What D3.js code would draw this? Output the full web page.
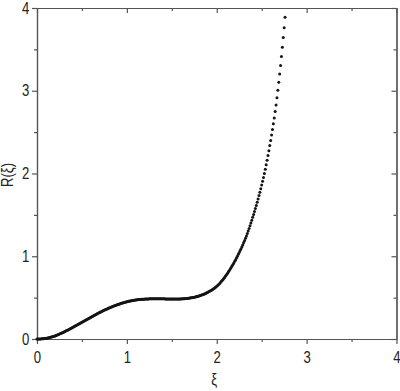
<!DOCTYPE html>
<html>
<head>
<meta charset="utf-8">
<script src="https://cdn.jsdelivr.net/npm/d3@7"></script>
<style>
    body { margin: 0; background: #fff; }
    .chart text { font-family: "Liberation Sans", Arial, sans-serif; font-size: 16px; fill: #222; }
</style>
</head>
<body>
<div class="chart"></div>
<script>
// sample points (xi step of about 0.01)
var xi = [
    0.00, 0.01, 0.02, 0.03, 0.04, 0.05, 0.06, 0.07, 0.08, 0.09,
    0.10, 0.11, 0.12, 0.13, 0.14, 0.15, 0.16, 0.17, 0.18, 0.19,
    0.20, 0.21, 0.22, 0.23, 0.24, 0.25, 0.26, 0.27, 0.28, 0.29,
    0.30, 0.31, 0.32, 0.33, 0.34, 0.35, 0.36, 0.37, 0.38, 0.39,
    0.40, 0.41, 0.42, 0.43, 0.44, 0.45, 0.46, 0.47, 0.48, 0.49,
    0.50, 0.51, 0.52, 0.53, 0.54, 0.55, 0.56, 0.57, 0.58, 0.59,
    0.60, 0.61, 0.62, 0.63, 0.64, 0.65, 0.66, 0.67, 0.68, 0.69,
    0.70, 0.71, 0.72, 0.73, 0.74, 0.75, 0.76, 0.77, 0.78, 0.79,
    0.80, 0.81, 0.82, 0.83, 0.84, 0.85, 0.86, 0.87, 0.88, 0.89,
    0.90, 0.91, 0.92, 0.93, 0.94, 0.95, 0.96, 0.97, 0.98, 0.99,
    1.00, 1.01, 1.02, 1.03, 1.04, 1.05, 1.06, 1.07, 1.08, 1.09,
    1.10, 1.11, 1.12, 1.13, 1.14, 1.15, 1.16, 1.17, 1.18, 1.19,
    1.20, 1.21, 1.22, 1.23, 1.24, 1.25, 1.26, 1.27, 1.28, 1.29,
    1.30, 1.31, 1.32, 1.33, 1.34, 1.35, 1.36, 1.37, 1.38, 1.39,
    1.40, 1.41, 1.42, 1.43, 1.44, 1.45, 1.46, 1.47, 1.48, 1.49,
    1.50, 1.51, 1.52, 1.53, 1.54, 1.55, 1.56, 1.57, 1.58, 1.59,
    1.60, 1.61, 1.62, 1.63, 1.64, 1.65, 1.66, 1.67, 1.68, 1.69,
    1.70, 1.71, 1.72, 1.73, 1.74, 1.75, 1.76, 1.77, 1.78, 1.79,
    1.80, 1.81, 1.82, 1.83, 1.84, 1.85, 1.86, 1.87, 1.88, 1.89,
    1.90, 1.91, 1.92, 1.93, 1.94, 1.95, 1.96, 1.97, 1.98, 1.99,
    2.00, 2.01, 2.02, 2.03, 2.04, 2.05, 2.06, 2.07, 2.08, 2.09,
    2.10, 2.11, 2.12, 2.13, 2.14, 2.15, 2.16, 2.17, 2.18, 2.19,
    2.20, 2.21, 2.22, 2.23, 2.24, 2.25, 2.26, 2.27, 2.28, 2.29,
    2.30, 2.31, 2.32, 2.33, 2.34, 2.35, 2.36, 2.37, 2.38, 2.39,
    2.40, 2.41, 2.42, 2.43, 2.44, 2.45, 2.46, 2.47, 2.48, 2.49,
    2.50, 2.51, 2.52, 2.53, 2.54, 2.55, 2.56, 2.57, 2.58, 2.59,
    2.60, 2.61, 2.62, 2.63, 2.64, 2.65, 2.66, 2.67, 2.68, 2.69,
    2.70, 2.71, 2.72, 2.73, 2.74, 2.75, 2.76
];

var R = [
    0.000, 0.000, 0.000, 0.001, 0.001, 0.002, 0.003, 0.004, 0.005, 0.007,
    0.008, 0.010, 0.012, 0.015, 0.017, 0.020, 0.023, 0.026, 0.030, 0.033,
    0.037, 0.041, 0.045, 0.050, 0.055, 0.060, 0.065, 0.070, 0.075, 0.080,
    0.085, 0.091, 0.096, 0.102, 0.107, 0.113, 0.119, 0.125, 0.131, 0.137,
    0.143, 0.149, 0.155, 0.161, 0.167, 0.173, 0.179, 0.185, 0.191, 0.197,
    0.203, 0.209, 0.215, 0.222, 0.228, 0.234, 0.240, 0.246, 0.252, 0.258,
    0.264, 0.270, 0.276, 0.282, 0.288, 0.294, 0.300, 0.305, 0.311, 0.317,
    0.322, 0.327, 0.333, 0.338, 0.344, 0.349, 0.354, 0.359, 0.364, 0.369,
    0.374, 0.379, 0.383, 0.388, 0.392, 0.397, 0.401, 0.405, 0.409, 0.413,
    0.417, 0.421, 0.424, 0.428, 0.431, 0.435, 0.438, 0.441, 0.444, 0.447,
    0.450, 0.453, 0.455, 0.458, 0.460, 0.462, 0.464, 0.466, 0.468, 0.470,
    0.471, 0.473, 0.474, 0.476, 0.477, 0.478, 0.479, 0.480, 0.481, 0.481,
    0.482, 0.483, 0.483, 0.484, 0.484, 0.485, 0.485, 0.485, 0.486, 0.486,
    0.486, 0.486, 0.486, 0.486, 0.486, 0.486, 0.486, 0.486, 0.485, 0.485,
    0.485, 0.485, 0.485, 0.484, 0.484, 0.484, 0.484, 0.484, 0.483, 0.483,
    0.483, 0.483, 0.483, 0.483, 0.483, 0.483, 0.483, 0.483, 0.484, 0.484,
    0.484, 0.485, 0.485, 0.486, 0.487, 0.488, 0.489, 0.490, 0.492, 0.493,
    0.495, 0.497, 0.499, 0.501, 0.503, 0.505, 0.508, 0.511, 0.514, 0.517,
    0.520, 0.524, 0.527, 0.531, 0.535, 0.539, 0.544, 0.548, 0.553, 0.558,
    0.564, 0.570, 0.576, 0.582, 0.589, 0.596, 0.603, 0.611, 0.619, 0.627,
    0.636, 0.647, 0.658, 0.669, 0.681, 0.694, 0.707, 0.720, 0.734, 0.749,
    0.764, 0.780, 0.796, 0.812, 0.829, 0.846, 0.864, 0.882, 0.900, 0.919,
    0.939, 0.959, 0.980, 1.001, 1.023, 1.045, 1.068, 1.092, 1.116, 1.140,
    1.165, 1.191, 1.218, 1.246, 1.275, 1.305, 1.336, 1.368, 1.401, 1.435,
    1.470, 1.505, 1.540, 1.577, 1.614, 1.653, 1.692, 1.733, 1.774, 1.817,
    1.860, 1.905, 1.952, 2.001, 2.052, 2.105, 2.160, 2.217, 2.276, 2.337,
    2.400, 2.465, 2.532, 2.601, 2.672, 2.748, 2.829, 2.915, 3.006, 3.102,
    3.202, 3.306, 3.414, 3.526, 3.642, 3.762, 3.887
];

var xTicks = [0, 1, 2, 3, 4];
var yTicks = [0, 1, 2, 3, 4];
var xMinor = [0.5, 1.5, 2.5, 3.5];
var yMinor = [0.5, 1.5, 2.5, 3.5];

var margin = { top: 8, right: 3.5, bottom: 52, left: 37 },
    width = 400 - margin.left - margin.right,
    height = 391 - margin.top - margin.bottom;

var svg = d3.select(".chart").append("svg")
    .attr("width", 400)
    .attr("height", 391);

var g = svg.append("g")
    .attr("transform", "translate(" + margin.left + "," + margin.top + ")");

var x = d3.scaleLinear().domain([0, 4]).range([0, width]);
var y = d3.scaleLinear().domain([0, 4]).range([height, 0]);

function styleAxis(sel) {
    sel.selectAll("path, line").attr("stroke", "#555").attr("stroke-width", 1.2);
    sel.selectAll("text").attr("font-family", null).attr("font-size", null);
}

// minor ticks first, then the major ones with labels
g.append("g").attr("transform", "translate(0," + height + ")")
    .call(d3.axisBottom(x).tickValues(xMinor).tickSize(3).tickFormat("").tickSizeOuter(0)).call(styleAxis);
var xAxis = g.append("g").attr("transform", "translate(0," + height + ")")
    .call(d3.axisBottom(x).tickValues(xTicks).tickSize(5).tickPadding(8).tickFormat(d3.format("d")).tickSizeOuter(0)).call(styleAxis);

g.append("g")
    .call(d3.axisLeft(y).tickValues(yMinor).tickSize(3).tickFormat("").tickSizeOuter(0)).call(styleAxis);
var yAxis = g.append("g")
    .call(d3.axisLeft(y).tickValues(yTicks).tickSize(5).tickPadding(3).tickFormat(d3.format("d")).tickSizeOuter(0)).call(styleAxis);

// narrow digits like the original
xAxis.selectAll(".tick text").attr("transform", "scale(0.82,1)");
yAxis.selectAll(".tick text").attr("x", -9.5).attr("transform", "scale(0.82,1)");

// mirrored frame, ticks pointing inside
g.append("g")
    .call(d3.axisTop(x).tickValues(xMinor).tickSize(-3).tickFormat("").tickSizeOuter(0)).call(styleAxis);
g.append("g")
    .call(d3.axisTop(x).tickValues(xTicks).tickSize(-5).tickFormat("").tickSizeOuter(0)).call(styleAxis);
g.append("g").attr("transform", "translate(" + width + ",0)")
    .call(d3.axisRight(y).tickValues(yMinor).tickSize(-3).tickFormat("").tickSizeOuter(0)).call(styleAxis);
g.append("g").attr("transform", "translate(" + width + ",0)")
    .call(d3.axisRight(y).tickValues(yTicks).tickSize(-5).tickFormat("").tickSizeOuter(0)).call(styleAxis);

var data = xi.map(function (d, i) { return { xi: d, r: R[i] }; });

g.selectAll(".dot")
    .data(data)
    .enter().append("circle")
    .attr("class", "dot")
    .attr("cx", function (d) { return x(d.xi); })
    .attr("cy", function (d) { return y(d.r); })
    .attr("r", 1.5)
    .attr("fill", "#141414");

// axis titles
svg.append("text")
    .attr("x", margin.left + width / 2 - 2)
    .attr("y", 385)
    .attr("text-anchor", "middle")
    .attr("transform", "translate(38,0) scale(0.82,1)")
    .text("ξ");

var yTitle = svg.append("g")
    .attr("transform", "translate(13,175)");
yTitle.append("text")
    .attr("transform", "rotate(-90) scale(0.82,1)")
    .attr("text-anchor", "middle")
    .text("R(ξ)");
</script>
</body>
</html>
